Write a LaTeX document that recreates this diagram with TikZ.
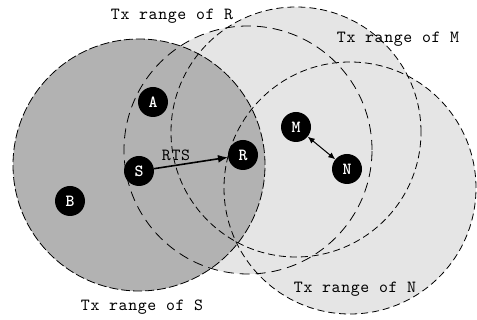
\documentclass[tikz,border=0pt]{standalone}
\usepackage{fontspec}
\newfontfamily\lbltt{lmmono10-regular.otf}[LetterSpace=4]
\usetikzlibrary{arrows.meta}
\definecolor{darkfill}{gray}{0.70}
\definecolor{lightfill}{gray}{0.90}
\begin{document}
\begin{tikzpicture}[x=1pt,y=-1pt,
  station/.style={circle,fill=black,minimum size=30pt,inner sep=0pt,text=white,
    font=\ttfamily\bfseries\fontsize{17}{17}\selectfont},
  lbl/.style={font=\lbltt\fontsize{17}{18}\selectfont,inner sep=0pt},
  rangeS/.style={line width=0.8pt,dash pattern=on 9pt off 3pt},
  rangeR/.style={line width=0.8pt,dash pattern=on 10pt off 6pt},
  rangeM/.style={line width=0.8pt,dash pattern=on 7pt off 4pt},
  rangeN/.style={line width=0.8pt,dash pattern=on 7pt off 4pt}
]
\useasboundingbox (0,0) rectangle (477,320);
% fills
\fill[lightfill] (248,150) circle[radius=124pt];
\fill[lightfill] (296,132) circle[radius=125pt];
\fill[lightfill] (350,188) circle[radius=126pt];
\fill[darkfill] (139,165) circle[radius=126pt];
% outlines
\draw[rangeR] (248,150) circle[radius=124pt];
\draw[rangeM] (296,132) circle[radius=125pt];
\draw[rangeN] (350,188) circle[radius=126pt];
\draw[rangeS] (139,165) circle[radius=126pt];
% stations
\node[station] (A) at (153,102) {A};
\node[station] (S) at (139,171) {S};
\node[station] (B) at (70,201) {B};
\node[station] (R) at (243,155) {R};
\node[station] (M) at (296,127) {M};
\node[station] (N) at (347,169) {N};
% arrows
\draw[-{Latex[length=10pt,width=8pt]},line width=1.6pt] (S) -- (R);
\draw[{Latex[length=7pt,width=6pt]}-{Latex[length=7pt,width=6pt]},line width=1pt] (M) -- (N);
% labels
\node[lbl] (rts) at (176,155) {RTS};
\node[lbl] (lR) at (172,16) {Tx range of R};
\node[lbl] (lM) at (398,39) {Tx range of M};
\node[lbl] (lN) at (355,289) {Tx range of N};
\node[lbl] (lS) at (142,307) {Tx range of S};
\end{tikzpicture}
\end{document}
